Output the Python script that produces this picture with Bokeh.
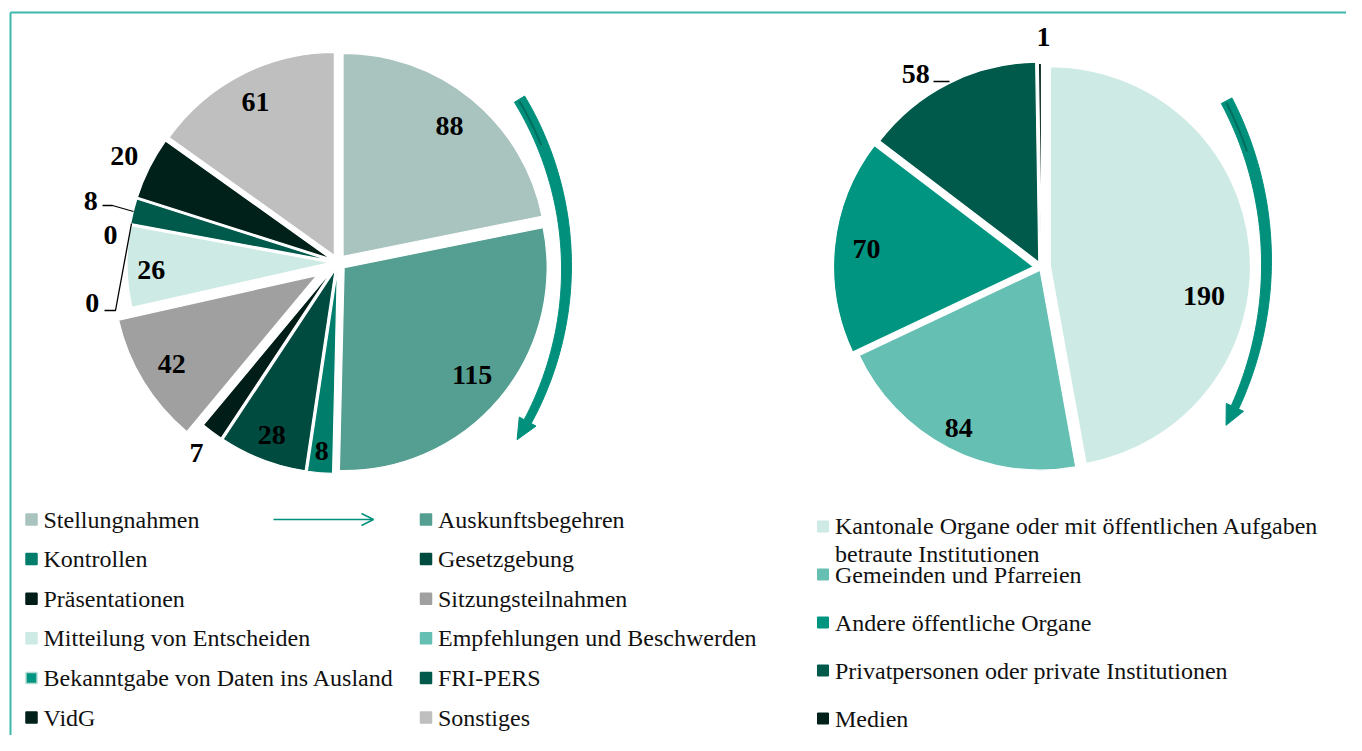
import numpy as np
from bokeh.plotting import figure
from bokeh.models import Range1d, Arrow, OpenHead, ColumnDataSource
from bokeh.embed import file_html
from bokeh.resources import INLINE
from bokeh.core.properties import value

# ---------------- data ----------------
left_categories = ["Stellungnahmen", "Auskunftsbegehren", "Kontrollen", "Gesetzgebung",
                   "Präsentationen", "Sitzungsteilnahmen", "Mitteilung von Entscheiden",
                   "Empfehlungen und Beschwerden", "Bekanntgabe von Daten ins Ausland",
                   "FRI-PERS", "VidG", "Sonstiges"]
left_values = [88, 115, 8, 28, 7, 42, 26, 0, 0, 8, 20, 61]
left_colors = ["#a9c3be", "#559f92", "#007d6b", "#004b40", "#001d18", "#a0a0a0",
               "#cdeae4", "#66bfb3", "#009580", "#005a4c", "#00201a", "#bfbfbf"]

right_categories = ["Kantonale Organe oder mit öffentlichen Aufgaben\nbetraute Institutionen",
                    "Gemeinden und Pfarreien", "Andere öffentliche Organe",
                    "Privatpersonen oder private Institutionen", "Medien"]
right_values = [190, 84, 70, 58, 1]
right_colors = ["#cdeae4", "#66bfb3", "#009580", "#005a4c", "#00201a"]

# ---------------- layout / style ----------------
FONT = value("Liberation Serif")
TEAL = "#00907c"
PW, PH = 1346, 735


def Y(sy):
    return PH - sy


p = figure(width=PW, height=PH, x_range=Range1d(0, PW), y_range=Range1d(0, PH),
           output_backend="svg", toolbar_location=None, min_border=0,
           x_axis_type=None, y_axis_type=None)
p.grid.visible = False
p.outline_line_color = None
p.background_fill_color = "white"

# frame
p.line([10, PW], [Y(12), Y(12)], line_color="#3cb8ab", line_width=2)
p.line([10, 10], [Y(12), Y(PH)], line_color="#3cb8ab", line_width=2)


def draw_pie(values, colors, cx, cy, r, explode, label_spec):
    vals = np.array(values, dtype=float)
    tot = vals.sum()
    cum = np.concatenate([[0], np.cumsum(vals)]) / tot * 360.0
    xs, ys, sa, ea, cols = [], [], [], [], []
    lx, ly, lt = [], [], []
    for i, v in enumerate(values):
        c0, c1 = cum[i], cum[i + 1]
        b = np.radians((c0 + c1) / 2)
        e = explode[i]
        if v > 0:
            xs.append(cx + e * np.sin(b))
            ys.append(Y(cy - e * np.cos(b)))
            sa.append(np.radians(90 - c1))
            ea.append(np.radians(90 - c0))
            cols.append(colors[i])
        ang, dist = label_spec[i]
        a = np.radians(ang) if ang is not None else b
        lx.append(cx + dist * np.sin(a))
        ly.append(Y(cy - dist * np.cos(a)))
        lt.append(str(v))
    src = ColumnDataSource(dict(x=xs, y=ys, sa=sa, ea=ea, c=cols))
    p.wedge(x="x", y="y", radius=r, start_angle="sa", end_angle="ea", fill_color="c",
            line_color="white", line_width=1.2, source=src)
    p.text(lx, ly, text=lt, text_font=FONT, text_font_style="bold", text_font_size="28px",
           text_align="center", text_baseline="middle", text_color="black")


left_explode = [8, 8, 8, 8, 8, 25, 8, 0, 0, 8, 8, 8]
left_labels = [(None, 176), (None, 175), (None, 189), (None, 185), (None, 237), (None, 195),
               (267.6, 187), (260.7, 249), (276.8, 229), (None, 255), (None, 239), (None, 180)]
draw_pie(left_values, left_colors, 337.5, 262, 203, left_explode, left_labels)

right_explode = [9, 3, 8, 6, 4]
right_labels = [(100, 165), (None, 181), (None, 176), (327, 231), (0.5, 231)]
draw_pie(right_values, right_colors, 1041, 267, 200, right_explode, right_labels)

# leader lines
p.line([102, 112, 133], [Y(205), Y(205), Y(211)], line_color="black", line_width=1.3)
p.line([104, 115, 131], [Y(310), Y(310), Y(223)], line_color="black", line_width=1.3)
p.line([933, 949], [Y(81), Y(81)], line_color="black", line_width=1.3)


# curved arrows
def curved_arrow(ccx, ccy, R, th_top, th_base, th_tip, hw_top, hw_bot, head_hw):
    th = np.radians(np.linspace(th_top, th_base, 80))
    hw = np.linspace(hw_top, hw_bot, 80)
    ox = ccx + (R + hw) * np.cos(th)
    oy = ccy - (R + hw) * np.sin(th)
    ix = ccx + (R - hw) * np.cos(th)
    iy = ccy - (R - hw) * np.sin(th)
    tb, tt = np.radians(th_base), np.radians(th_tip)
    hx = [ccx + (R + head_hw) * np.cos(tb), ccx + R * np.cos(tt), ccx + (R - head_hw) * np.cos(tb)]
    hy = [ccy - (R + head_hw) * np.sin(tb), ccy - R * np.sin(tt), ccy - (R - head_hw) * np.sin(tb)]
    px = list(ox) + hx + list(ix[::-1])
    py = list(oy) + hy + list(iy[::-1])
    p.patch(px, [Y(v) for v in py], fill_color=TEAL, line_color=TEAL, line_width=1)
    # darker inner band near the top end
    th2 = np.radians(np.linspace(th_top - 0.3, th_top - 9, 30))
    p.line(ccx + (R - hw_top * 0.2) * np.cos(th2), [Y(v) for v in ccy - (R - hw_top * 0.2) * np.sin(th2)],
           line_color="#006e5e", line_width=2)


curved_arrow(241, 267, 325, 31.2, -28.3, -32.0, 6, 4, 9.5)
curved_arrow(918, 262, 348, 27.7, -24.6, -27.9, 6, 4, 9.5)

# ---------------- legends ----------------
for i, (name, col) in enumerate(zip(left_categories, left_colors)):
    row, colx = i // 2, i % 2
    yy = 519 + row * 39.6
    sx = 31 if colx == 0 else 425.5
    lc = "#b3dcd5" if name.startswith("Bekanntgabe") else col
    p.rect([sx], [Y(yy)], width=11, height=11, fill_color=col, line_color=lc, line_width=1.5)
    p.text([sx + 12], [Y(yy)], text=[name], text_font=FONT, text_font_size="24px",
           text_align="left", text_baseline="middle", text_color="#111111")

for i, (name, col) in enumerate(zip(right_categories, right_colors)):
    yy = 526 + i * 48
    p.rect([822.5], [Y(yy)], width=11, height=11, fill_color=col, line_color=col)
    if "\n" in name:
        p.text([834.5], [Y(yy - 14)], text=[name], text_font=FONT, text_font_size="24px",
               text_align="left", text_baseline="top", text_line_height=1.08, text_color="#111111")
    else:
        p.text([834.5], [Y(yy)], text=[name], text_font=FONT, text_font_size="24px",
               text_align="left", text_baseline="middle", text_color="#111111")

# arrow between first legend entries
p.add_layout(Arrow(end=OpenHead(size=12, line_color=TEAL, line_width=1.5),
                   x_start=273, y_start=Y(519), x_end=373, y_end=Y(519),
                   line_color=TEAL, line_width=1.5))

open("out.html", "w").write(file_html(p, INLINE))
